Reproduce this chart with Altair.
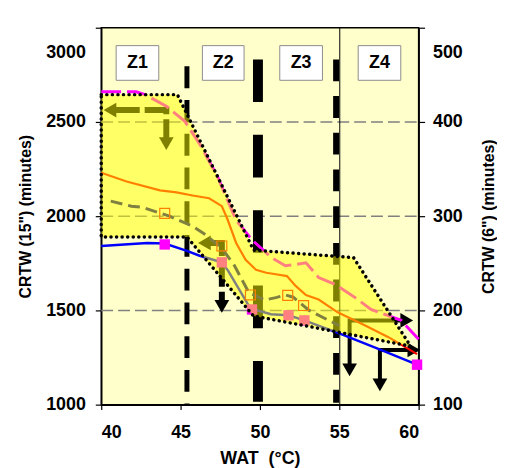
import altair as alt
import pandas as pd

# ---------------- data ----------------
x_ticks = [40, 45, 50, 55, 60]
y_ticks_left = [1000, 1500, 2000, 2500, 3000]
y_ticks_right = [100, 200, 300, 400, 500]
grid_vals = [1500, 2000, 2500]

# zone envelope (polygon)
poly_x = [40, 44.8, 49.6, 55.9, 59.5, 54.9, 52.4, 49.6, 45.4, 40, 40]
poly_y = [2645, 2645, 1820, 1780, 1310, 1385, 1426, 1470, 1890, 1890, 2645]

# blue line
blue_x = [40, 42.9, 44, 45.4, 46.2, 47.6, 48, 49.4, 50.7, 51.8, 52.8, 55, 57.5, 59.9]
blue_y = [1842, 1858, 1855, 1816, 1790, 1755, 1710, 1510, 1480, 1474, 1447, 1378, 1295, 1212]

# navy dashed line
navy_x = [40.6, 41.9, 42.6, 44.3, 45.75, 46.6, 47.6, 48.4, 48.8, 49.3, 50.3, 51.0, 51.6, 52.1, 52.6, 53.1, 54.2, 55.0]
navy_y = [2080, 2053, 2047, 2000, 1947, 1900, 1830, 1737, 1674, 1595, 1555, 1568, 1582, 1570, 1535, 1500, 1453, 1420]

# red line
red_x = [40, 41.6, 43.7, 44.75, 45.75, 46.8, 47.6, 47.95, 48.5, 49.1, 49.75, 50.4, 51.0, 51.7, 52.25, 52.9, 53.7, 54.9, 56.6, 58.1, 59.9]
red_y = [2230, 2184, 2137, 2126, 2110, 2095, 2053, 1985, 1858, 1768, 1716, 1700, 1692, 1682, 1630, 1582, 1558, 1490, 1421, 1358, 1268]

# magenta dashed line
mag_x = [40, 42.2, 42.75, 44.1, 45.25, 46.2, 47.3, 48.5, 49.5, 50.75, 51.6, 52.1, 52.9, 53.7, 54.75, 56, 57, 58.9, 60]
mag_y = [2660, 2660, 2645, 2584, 2505, 2384, 2215, 1979, 1874, 1779, 1737, 1742, 1753, 1674, 1637, 1568, 1505, 1447, 1347]

# magenta filled squares
sq_x = [44, 47.6, 49.5, 51.8, 52.8, 59.9]
sq_y = [1850, 1755, 1505, 1474, 1447, 1212]

# red hollow squares
hs_x = [44, 47.6, 49.4, 51.75, 52.75]
hs_y = [2015, 1842, 1582, 1580, 1526]

# vertical zone boundaries
vA_x, vA_top = 45.4, 2795
vB_x, vB_top = 49.875, 2832
vC_x, vC_top = 54.8, 2832
vD_x = 55.03

# arrows: shafts (id, x, y) and heads (x, y, shape)
dash_arrow_id = ["a1", "a1", "a1", "a2", "a2", "a2"]
dash_arrow_x = [40.8, 44.1, 44.1, 46.8, 47.6, 47.6]
dash_arrow_y = [2563, 2563, 2400, 1858, 1858, 1540]
solid_arrow_id = ["a3", "a3", "a3", "a4", "a4", "a4"]
solid_arrow_x = [59.1, 55.65, 55.65, 59.5, 57.56, 57.56]
solid_arrow_y = [1447, 1447, 1200, 1290, 1290, 1120]
head_x = [40.55, 44.1, 46.5, 47.6, 59.25, 55.65, 59.7, 57.56]
head_y = [2563, 2385, 1858, 1521, 1447, 1184, 1290, 1105]
head_shape = ["triangle-left", "triangle-down", "triangle-left", "triangle-down",
              "triangle-right", "triangle-down", "triangle-right", "triangle-down"]

# zone labels
zone_labels = ["Z1", "Z2", "Z3", "Z4"]
zone_x1 = [40.94, 46.375, 51.25, 56.19]
zone_x2 = [43.625, 49.0, 53.94, 58.875]
zone_y1 = 2721
zone_y2 = 2905
zone_ty = 2813

# ---------------- chart ----------------
FONT = "Liberation Sans"
X_TITLE = "WAT\u00a0\u00a0(°C)"
Y_TITLE = 'CRTW (15") (minutes)'
xsc = alt.Scale(domain=[40, 60], nice=False, zero=False)
ysc = alt.Scale(domain=[1000, 3000], nice=False, zero=False)

xaxis = alt.Axis(values=x_ticks, title=X_TITLE, grid=False, tickSize=5,
                 labelPadding=14, titlePadding=8, format="d")
yaxis = alt.Axis(values=y_ticks_left, title=Y_TITLE, grid=False, tickSize=6,
                 labelPadding=10, titlePadding=12, format="d",
                 labelOffset={"condition": {"test": "datum.value == 3000", "value": 25}, "value": 0})


def X(f="x"):
    return alt.X(f"{f}:Q", scale=xsc, axis=xaxis, title=X_TITLE)


def Y(f="y"):
    return alt.Y(f"{f}:Q", scale=ysc, axis=yaxis, title=Y_TITLE)


def line_df(xs, ys):
    return pd.DataFrame({"x": xs, "y": ys, "o": list(range(len(xs)))})


grid_df = pd.DataFrame({"y": grid_vals, "x": [40] * 3, "x2": [60] * 3})
grid = alt.Chart(grid_df).mark_rule(color="#808080", strokeWidth=1.5, strokeDash=[12, 5]).encode(
    x=X(), x2="x2:Q", y=Y())

vert_df = pd.DataFrame({
    "x": [vA_x, vB_x, vC_x, vD_x],
    "y": [vA_top, vB_top, vC_top, 3000],
    "y2": [1000, 1015, 1010, 1000],
    "k": ["A", "B", "C", "D"],
})
vA = alt.Chart(vert_df[vert_df.k == "A"]).mark_rule(color="black", strokeWidth=5, strokeDash=[22, 12]).encode(
    x=X(), y=Y(), y2="y2:Q")
vB = alt.Chart(vert_df[vert_df.k == "B"]).mark_rule(color="black", strokeWidth=10, strokeDash=[43, 33]).encode(
    x=X(), y=Y(), y2="y2:Q")
vC = alt.Chart(vert_df[vert_df.k == "C"]).mark_rule(color="black", strokeWidth=6, strokeDash=[22, 15]).encode(
    x=X(), y=Y(), y2="y2:Q")
vD = alt.Chart(vert_df[vert_df.k == "D"]).mark_rule(color="black", strokeWidth=1).encode(
    x=X(), y=Y(), y2="y2:Q")

da_df = pd.DataFrame({"id": dash_arrow_id, "x": dash_arrow_x, "y": dash_arrow_y, "o": list(range(6))})
dash_arrows = alt.Chart(da_df).mark_line(color="black", strokeWidth=6, strokeDash=[26, 5]).encode(
    x=X(), y=Y(), detail="id:N", order="o:Q")
sa_df = pd.DataFrame({"id": solid_arrow_id, "x": solid_arrow_x, "y": solid_arrow_y, "o": list(range(6))})
solid_arrows = alt.Chart(sa_df).mark_line(color="black", strokeWidth=4).encode(
    x=X(), y=Y(), detail="id:N", order="o:Q")
heads_df = pd.DataFrame({"x": head_x, "y": head_y, "s": head_shape})
heads = alt.Chart(heads_df).mark_point(filled=True, color="black", opacity=1, size=220, strokeWidth=0).encode(
    x=X(), y=Y(), shape=alt.Shape("s:N", scale=None, legend=None))

blue = alt.Chart(line_df(blue_x, blue_y)).mark_line(color="#0000FF", strokeWidth=2.5).encode(
    x=X(), y=Y(), order="o:Q")
navy = alt.Chart(line_df(navy_x, navy_y)).mark_line(color="#000080", strokeWidth=3, strokeDash=[12, 6]).encode(
    x=X(), y=Y(), order="o:Q")
red = alt.Chart(line_df(red_x, red_y)).mark_line(color="#FF0000", strokeWidth=2.2).encode(
    x=X(), y=Y(), order="o:Q")
mag = alt.Chart(line_df(mag_x, mag_y)).mark_line(color="#FF00FF", strokeWidth=3, strokeDash=[20, 6]).encode(
    x=X(), y=Y(), order="o:Q")

squares = alt.Chart(line_df(sq_x, sq_y)).mark_square(color="#FF00FF", opacity=1, size=110).encode(x=X(), y=Y())
hollow = alt.Chart(line_df(hs_x, hs_y)).mark_square(filled=False, color="#FF0000", opacity=1, size=100,
                                                     strokeWidth=1.2).encode(x=X(), y=Y())

poly_df = line_df(poly_x, poly_y)
poly_fill = alt.Chart(poly_df).mark_line(fill="#FFFF00", fillOpacity=0.5, strokeOpacity=0, strokeWidth=0).encode(
    x=X(), y=Y(), order="o:Q")
poly_edge = alt.Chart(poly_df).mark_line(color="black", strokeWidth=3.5, strokeDash=[0.1, 5.5],
                                         strokeCap="round").encode(x=X(), y=Y(), order="o:Q")

zone_df = pd.DataFrame({"t": zone_labels, "x": zone_x1, "x2": zone_x2,
                        "y": [zone_y1] * 4, "y2": [zone_y2] * 4,
                        "xc": [(a + b) / 2 for a, b in zip(zone_x1, zone_x2)], "yc": [zone_ty] * 4})
zone_box = alt.Chart(zone_df).mark_rect(fill="white", stroke="#8c8c8c", strokeWidth=1).encode(
    x=X(), x2="x2:Q", y=Y(), y2="y2:Q")
zone_txt = alt.Chart(zone_df).mark_text(font=FONT, fontSize=18, fontWeight="bold", color="black",
                                        baseline="middle", align="center").encode(
    x=X("xc"), y=Y("yc"), text="t:N")

main = alt.layer(grid, vA, vB, vC, vD, dash_arrows, solid_arrows, heads,
                 blue, navy, mag, red, squares, hollow, poly_fill, poly_edge, zone_box, zone_txt)

right_df = pd.DataFrame({"x": [40, 40], "r": [100, 500]})
right = alt.Chart(right_df).mark_point(opacity=0).encode(
    x=X(),
    y=alt.Y("r:Q", scale=alt.Scale(domain=[100, 500], nice=False, zero=False),
            axis=alt.Axis(orient="right", values=y_ticks_right, title='CRTW (6") (minutes)',
                          grid=False, tickSize=6, labelPadding=8, titlePadding=34, titleAngle=270,
                          format="d",
                          labelOffset={"condition": {"test": "datum.value == 500", "value": 25}, "value": 0})),
)

chart = alt.layer(main, right).resolve_scale(y="independent").properties(
    width=320, height=380,
    padding={"left": 9, "top": 15, "right": 0, "bottom": 0},
).configure_view(fill="#FFFFCC", stroke="black", strokeWidth=1.5).configure_axis(
    labelFont=FONT, labelFontSize=18, labelFontWeight="bold", labelColor="black",
    titleFont=FONT, titleFontSize=16, titleFontWeight="bold", titleColor="black",
    domainColor="black", domainWidth=1.5, tickColor="black", tickWidth=1.2,
).configure_axisX(titleFontSize=18)

chart.save("out.html", embed_options={"renderer": "svg", "actions": False})
